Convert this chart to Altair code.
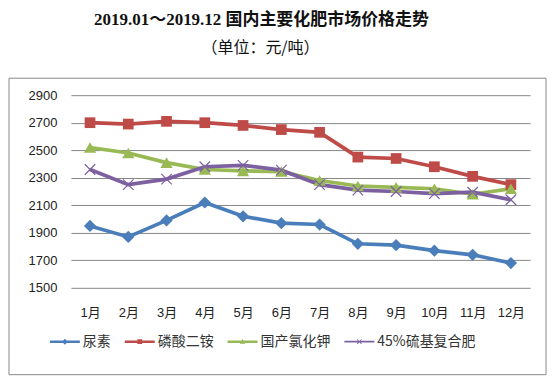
import altair as alt
import pandas as pd

months = ["1月", "2月", "3月", "4月", "5月", "6月", "7月", "8月", "9月", "10月", "11月", "12月"]
series_names = ["尿素", "磷酸二铵", "国产氯化钾", "45%硫基复合肥"]
urea = [1950, 1870, 1990, 2120, 2020, 1970, 1960, 1820, 1810, 1770, 1740, 1680]
dap = [2700, 2690, 2710, 2700, 2680, 2650, 2630, 2450, 2440, 2380, 2310, 2250]
kcl = [2520, 2480, 2410, 2360, 2350, 2345, 2280, 2240, 2230, 2220, 2180, 2220]
npk = [2360, 2250, 2290, 2380, 2390, 2355, 2250, 2210, 2200, 2185, 2195, 2140]
y_ticks = [1500, 1700, 1900, 2100, 2300, 2500, 2700, 2900]
title_line = ["2019.01～2019.12 国内主要化肥市场价格走势"]
subtitle = ["（单位：元/吨）"]

colors = ["#4A7EBB", "#BE4B48", "#98B954", "#7D60A0"]

rows = []
for name, vals in zip(series_names, [urea, dap, kcl, npk]):
    for m, v in zip(months, vals):
        rows.append({"month": m, "series": name, "value": v})
df = pd.DataFrame(rows)

base = alt.Chart(df)

x = alt.X(
    "month:N", sort=months,
    scale=alt.Scale(type="point", padding=0.5),
    axis=alt.Axis(title=None, labelAngle=0, ticks=False, domain=False, grid=False,
                  labelPadding=19, labelFontSize=13, labelColor="#222222",
                  labelFont="Liberation Sans, Noto Sans CJK SC"),
)
y = alt.Y(
    "value:Q",
    scale=alt.Scale(domain=[1500, 2900], nice=False, zero=False),
    axis=alt.Axis(title=None, values=y_ticks, format="d", ticks=False, domain=False,
                  gridColor="#868686", gridWidth=1, labelPadding=14,
                  labelFontSize=13, labelColor="#222222", labelFont="Liberation Sans"),
)
color_scale = alt.Scale(domain=series_names, range=colors)

legend_paths = [
    "M-1,-0.08H1V0.08H-1Z M0,-0.2L0.2,0L0,0.2L-0.2,0Z",
    "M-1,-0.08H1V0.08H-1Z M-0.16,-0.16H0.16V0.16H-0.16Z",
    "M-1,-0.08H1V0.08H-1Z M0,-0.18L0.19,0.14L-0.19,0.14Z",
    "M-1,-0.06H1V0.06H-1Z M-0.125,-0.165L0.165,0.125L0.125,0.165L-0.165,-0.125Z M0.165,-0.125L-0.125,0.165L-0.165,0.125L0.125,-0.165Z",
]
leg_props = dict(
    orient="none", legendX=-21, legendY=232, direction="horizontal", title=None,
    symbolSize=900, labelFontSize=14, labelFont="Noto Sans CJK SC", labelColor="#333333",
    columnPadding=14, labelOffset=3, symbolOpacity=1, symbolStrokeWidth=0,
)
# legend-only layer (draws no marks); placed first so its legend settings win the merge
legend_layer = base.transform_filter("false").mark_point(filled=True, opacity=1).encode(
    x=x, y=y,
    color=alt.Color("series:N", scale=color_scale, legend=alt.Legend(**leg_props)),
    shape=alt.Shape("series:N", scale=alt.Scale(domain=series_names, range=legend_paths),
                    legend=alt.Legend(**leg_props)),
)

frame = alt.Chart(pd.DataFrame({"a": [0]})).mark_rect(
    fillOpacity=0, stroke="#898989", strokeWidth=1
).encode(x=alt.value(-62), x2=alt.value(476), y=alt.value(-17), y2=alt.value(280))

lines = base.mark_line(strokeWidth=3.7).encode(
    x=x, y=y, color=alt.Color("series:N", scale=color_scale, legend=None)
)

marker_specs = [
    ("尿素", "diamond", 150, True),
    ("磷酸二铵", "square", 115, True),
    ("国产氯化钾", "triangle-up", 150, True),
    ("45%硫基复合肥", "M-1,-1L1,1M1,-1L-1,1", 110, False),
]
markers = []
for name, shape, size, filled in marker_specs:
    markers.append(
        base.transform_filter(alt.datum.series == name)
        .mark_point(shape=shape, size=size, filled=filled, opacity=1, strokeWidth=1.2)
        .encode(x=x, y=y, color=alt.Color("series:N", scale=color_scale, legend=None))
    )

t1 = alt.Chart(pd.DataFrame({"t": title_line})).mark_text(
    font="Liberation Serif, Noto Sans CJK SC", fontWeight="bold", fontSize=17,
    align="center", baseline="middle", color="#111111"
).encode(x=alt.value(191), y=alt.value(-75), text="t:N")
t3 = alt.Chart(pd.DataFrame({"t": subtitle})).mark_text(
    font="Noto Sans CJK SC", fontSize=16, align="center", baseline="middle", color="#111111"
).encode(x=alt.value(190), y=alt.value(-47), text="t:N")

chart = alt.layer(legend_layer, frame, lines, *markers, t1, t3).properties(
    width=460, height=193,
    autosize=alt.AutoSizeParams(type="none"),
    padding={"left": 63, "top": 87, "right": 17, "bottom": 88},
    background="white",
).configure_view(stroke=None)

chart.save("out.html", embed_options={"renderer": "svg", "actions": False})
